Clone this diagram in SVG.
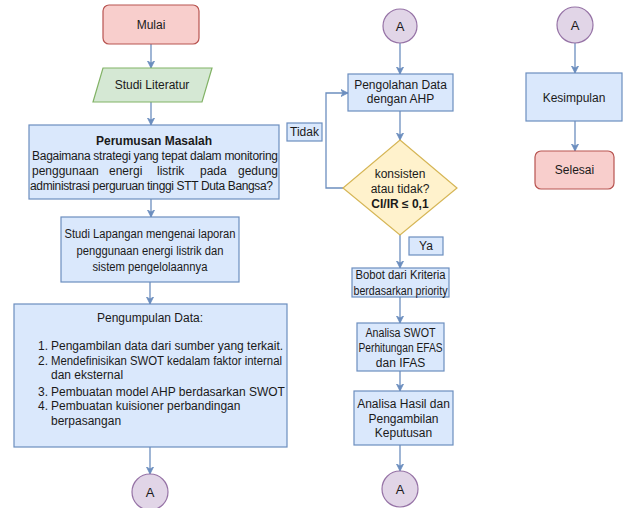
<svg xmlns="http://www.w3.org/2000/svg" width="623" height="508" viewBox="0 0 623 508">
<defs>
<marker id="arr" markerWidth="8" markerHeight="8" refX="7" refY="4" orient="auto" markerUnits="userSpaceOnUse">
<path d="M0,0.5 L7,4 L0,7.5 L2,4 Z" fill="#6c8ebf" stroke="#6c8ebf" stroke-width="0.8"/>
</marker>
<style>
text{font-family:"Liberation Sans",Arial,sans-serif;font-size:12px;fill:#1a1a1a}
.c{text-anchor:middle}
.b{font-weight:bold}
.red{fill:#f8cecc;stroke:#b85450;stroke-width:1.2}
.grn{fill:#d5e8d4;stroke:#82b366;stroke-width:1.2}
.blu{fill:#dae8fc;stroke:#6c8ebf;stroke-width:1.2}
.pur{fill:#e1d5e7;stroke:#9673a6;stroke-width:1.2}
.yel{fill:#fff2cc;stroke:#d6b656;stroke-width:1.2}
.ln{fill:none;stroke:#6c8ebf;stroke-width:1.3;marker-end:url(#arr)}
</style>
</defs>
<rect width="623" height="508" fill="#ffffff"/>
<g id="connectors">
<path class="ln" d="M151,44 V68"/>
<path class="ln" d="M151,102 V125"/>
<path class="ln" d="M151,199 V217"/>
<path class="ln" d="M150,282 V304"/>
<path class="ln" d="M150,447 V474"/>
<path class="ln" d="M400,43 V74"/>
<path class="ln" d="M400,111 V140"/>
<path class="ln" d="M400,235 V268"/>
<path class="ln" d="M400,297 V323"/>
<path class="ln" d="M400,371 V391"/>
<path class="ln" d="M400,445 V471"/>
<path class="ln" d="M575,43 V73"/>
<path class="ln" d="M575,121 V151"/>
<path class="ln" d="M343,188 H326 V93 H348"/>
<g id="label-tidak"><rect class="blu" x="287" y="123" width="35" height="18"/><text class="c" x="304.5" y="136">Tidak</text></g>
<g id="label-ya"><rect class="blu" x="409" y="237" width="34" height="18"/><text class="c" x="426" y="250">Ya</text></g>
</g>
<g id="mulai"><rect class="red" x="103" y="5" width="96" height="39" rx="6"/><text class="c" x="151" y="29">Mulai</text></g>
<g id="studi-literatur"><polygon class="grn" points="103,68 212,68 202,102 93,102"/><text class="c" x="152" y="89">Studi Literatur</text></g>
<g id="perumusan"><rect class="blu" x="29" y="125" width="250" height="74"/>
<text class="c b" x="154" y="145">Perumusan Masalah</text>
<text x="32" y="160" textLength="246" lengthAdjust="spacing">Bagaimana strategi yang tepat dalam monitoring</text>
<text x="32" y="175">penggunaan</text><text x="109" y="175">energi</text><text x="157" y="175">listrik</text><text x="200" y="175">pada</text><text x="278" y="175" text-anchor="end">gedung</text>
<text x="30" y="190" textLength="243" lengthAdjust="spacing">administrasi perguruan tinggi STT Duta Bangsa?</text>
</g>
<g id="studi-lapangan"><rect class="blu" x="61" y="217" width="178" height="65"/>
<text class="c" x="150" y="238" textLength="171" lengthAdjust="spacingAndGlyphs">Studi Lapangan mengenai laporan</text>
<text class="c" x="150" y="255" textLength="147" lengthAdjust="spacingAndGlyphs">penggunaan energi listrik dan</text>
<text class="c" x="150" y="271" textLength="115" lengthAdjust="spacingAndGlyphs">sistem pengelolaannya</text>
</g>
<g id="pengumpulan"><rect class="blu" x="14" y="304" width="273" height="143"/>
<text class="c" x="150" y="322">Pengumpulan Data:</text>
<text x="38" y="350">1.</text><text x="51" y="350">Pengambilan data dari sumber yang terkait.</text>
<text x="38" y="365">2.</text><text x="51" y="365" textLength="231" lengthAdjust="spacingAndGlyphs">Mendefinisikan SWOT kedalam faktor internal</text>
<text x="51" y="379">dan eksternal</text>
<text x="38" y="396">3.</text><text x="51" y="396">Pembuatan model AHP berdasarkan SWOT</text>
<text x="38" y="410">4.</text><text x="51" y="410">Pembuatan kuisioner perbandingan</text>
<text x="51" y="425">berpasangan</text>
</g>
<g id="a-left"><circle class="pur" cx="150" cy="492" r="18"/><text class="c" x="150" y="497" style="font-size:13px">A</text></g>
<g id="a-mid-top"><circle class="pur" cx="400" cy="26" r="17"/><text class="c" x="400" y="31" style="font-size:13px">A</text></g>
<g id="pengolahan"><rect class="blu" x="348" y="74" width="105" height="37"/>
<text class="c" x="400.5" y="89">Pengolahan Data</text>
<text class="c" x="400.5" y="103">dengan AHP</text>
</g>
<g id="konsisten"><polygon class="yel" points="400,140 457,188 400,235 343,188"/>
<text class="c" x="400" y="178">konsisten</text>
<text class="c" x="400" y="193">atau tidak?</text>
<text class="c b" x="400" y="208">CI/IR ≤ 0,1</text>
</g>
<g id="bobot"><rect class="blu" x="352" y="268" width="97" height="29"/>
<text class="c" x="400.5" y="279" textLength="90" lengthAdjust="spacingAndGlyphs">Bobot dari Kriteria</text>
<text class="c" x="400.5" y="295" textLength="94" lengthAdjust="spacingAndGlyphs">berdasarkan priority</text>
</g>
<g id="analisa-swot"><rect class="blu" x="357" y="323" width="87" height="48"/>
<text class="c" x="400.5" y="337" textLength="70" lengthAdjust="spacingAndGlyphs">Analisa SWOT</text>
<text class="c" x="400.5" y="352" textLength="84" lengthAdjust="spacingAndGlyphs">Perhitungan EFAS</text>
<text class="c" x="400.5" y="367">dan IFAS</text>
</g>
<g id="analisa-hasil"><rect class="blu" x="354" y="391" width="99" height="54"/>
<text class="c" x="403.5" y="408">Analisa Hasil dan</text>
<text class="c" x="403.5" y="423">Pengambilan</text>
<text class="c" x="403.5" y="437">Keputusan</text>
</g>
<g id="a-mid-bottom"><circle class="pur" cx="400" cy="489" r="18"/><text class="c" x="400" y="494" style="font-size:13px">A</text></g>
<g id="a-right"><circle class="pur" cx="575" cy="25" r="18"/><text class="c" x="575" y="30" style="font-size:13px">A</text></g>
<g id="kesimpulan"><rect class="blu" x="526" y="73" width="96" height="48"/><text class="c" x="574" y="102">Kesimpulan</text></g>
<g id="selesai"><rect class="red" x="535" y="151" width="79" height="38" rx="6"/><text class="c" x="574.5" y="174">Selesai</text></g>
</svg>
